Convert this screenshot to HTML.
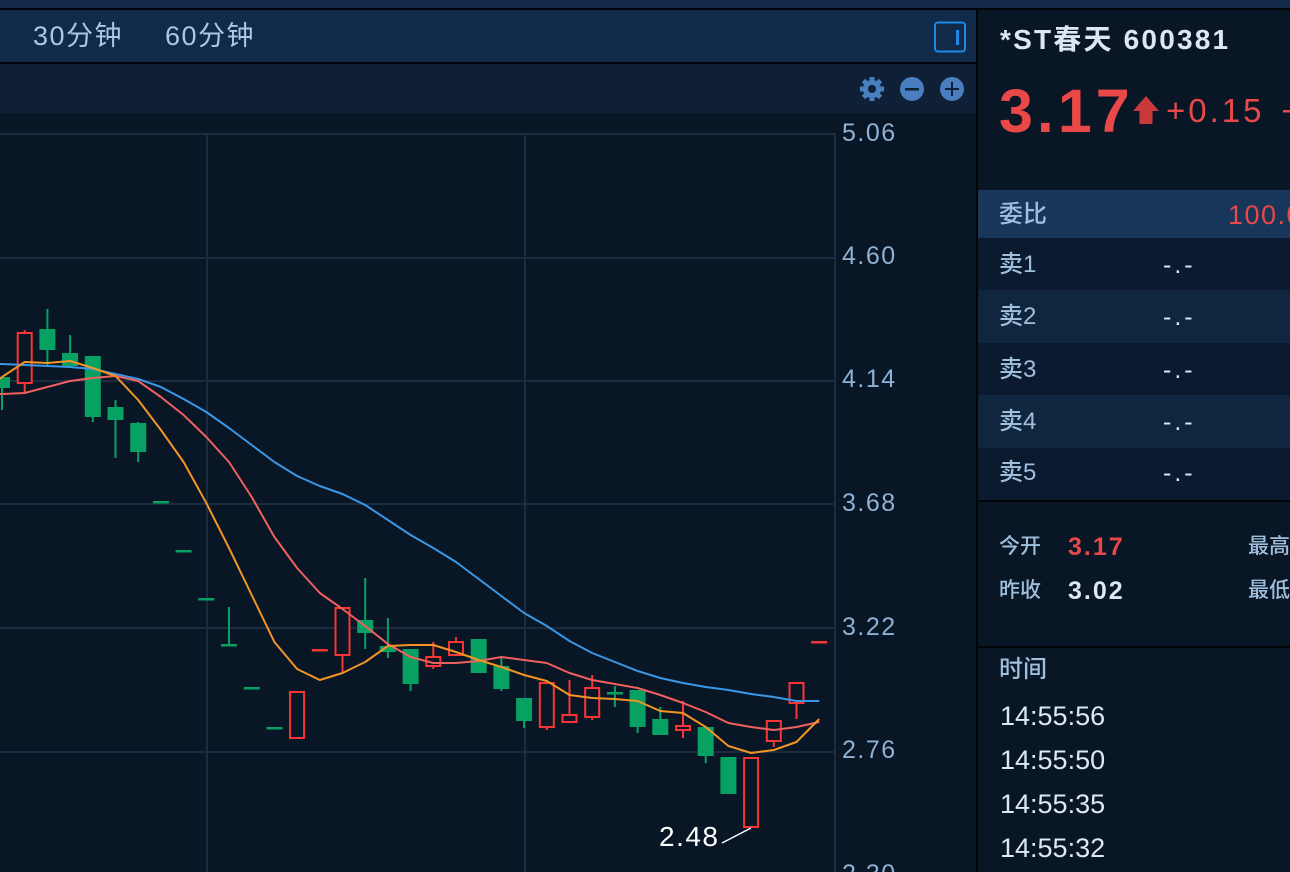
<!DOCTYPE html>
<html><head><meta charset="utf-8">
<style>
*{margin:0;padding:0;box-sizing:border-box}
html,body{width:1290px;height:872px;overflow:hidden;background:#081626}
body{position:relative;font-family:"Liberation Sans","Noto Sans CJK SC",sans-serif}
.a{position:absolute;white-space:nowrap}
.lbl{color:#a0bfdc;font-size:24px;line-height:24px;font-weight:500}
.val{color:#dce8f5;font-size:25px;line-height:24px;letter-spacing:3px}
</style></head><body>
<div class="a" style="left:0;top:0;width:1290px;height:8px;background:#13294a"></div>
<div class="a" style="left:0;top:8px;width:1290px;height:2px;background:#020508"></div>
<div class="a" style="left:0;top:10px;width:976px;height:52px;background:#112a49"></div>
<div class="a" style="left:0;top:62px;width:976px;height:2px;background:#020508"></div>
<div class="a" style="left:33px;top:23px;font-size:27px;line-height:27px;color:#a9c8e6;letter-spacing:1.5px">30分钟</div>
<div class="a" style="left:165px;top:23px;font-size:27px;line-height:27px;color:#a9c8e6;letter-spacing:1.5px">60分钟</div>
<div class="a" style="left:0;top:64px;width:976px;height:49px;background:#0e1f36"></div>
<div class="a" style="left:976px;top:10px;width:2px;height:862px;background:#020508"></div>

<svg class="a" style="left:0;top:0" width="976" height="872" viewBox="0 0 976 872">
  <rect x="935" y="22.5" width="30" height="29" rx="3" fill="none" stroke="#1a8ae6" stroke-width="2"/>
  <rect x="956" y="30" width="3" height="15" fill="#1a8ae6"/>
  <g fill="#4a7fbf">
    <circle cx="872" cy="89" r="9"/>
    <rect x="869.5" y="77" width="5" height="24"/>
    <rect x="860" y="86.5" width="24" height="5"/>
    <rect x="869.5" y="77" width="5" height="24" transform="rotate(45 872 89)"/>
    <rect x="869.5" y="77" width="5" height="24" transform="rotate(-45 872 89)"/>
    <circle cx="912" cy="89" r="12"/>
    <circle cx="952" cy="89" r="12"/>
  </g>
  <circle cx="872" cy="89" r="4" fill="#0e1f36"/>
  <rect x="905" y="88" width="14" height="2.5" fill="#0e1f36"/>
  <rect x="945" y="88" width="14" height="2" fill="#0e1f36"/>
  <rect x="951" y="82" width="2" height="14" fill="#0e1f36"/>

  <g stroke="#1b2c42" stroke-width="2">
    <line x1="0" y1="134" x2="835" y2="134"/>
    <line x1="0" y1="258" x2="835" y2="258"/>
    <line x1="0" y1="381" x2="835" y2="381"/>
    <line x1="0" y1="504" x2="835" y2="504"/>
    <line x1="0" y1="628" x2="835" y2="628"/>
    <line x1="0" y1="752" x2="835" y2="752"/>
    <line x1="207" y1="134" x2="207" y2="872"/>
    <line x1="525" y1="134" x2="525" y2="872"/>
    <line x1="835" y1="134" x2="835" y2="872"/>
  </g>

  <g fill="#07a163">
    <rect x="1" y="377" width="2" height="33"/><rect x="-6" y="377" width="16" height="11"/>
    <rect x="46.4" y="309" width="2" height="57"/><rect x="39.4" y="329" width="16" height="21"/>
    <rect x="69.1" y="335" width="2" height="31"/><rect x="62.1" y="353" width="16" height="13"/>
    <rect x="91.8" y="356" width="2" height="66"/><rect x="84.8" y="356" width="16" height="61"/>
    <rect x="114.5" y="400" width="2" height="58"/><rect x="107.5" y="407" width="16" height="13"/>
    <rect x="137.2" y="422" width="2" height="40"/><rect x="130.2" y="423" width="16" height="29"/>
    <rect x="152.9" y="501" width="16" height="2.5"/>
    <rect x="175.6" y="550" width="16" height="2.5"/>
    <rect x="198.3" y="598" width="16" height="2.5"/>
    <rect x="228" y="607" width="2" height="38"/><rect x="221" y="644" width="16" height="2.5"/>
    <rect x="243.7" y="687" width="16" height="2.5"/>
    <rect x="266.4" y="727" width="16" height="2.5"/>
    <rect x="364.2" y="578" width="2" height="71"/><rect x="357.2" y="620" width="16" height="13"/>
    <rect x="386.9" y="618" width="2" height="40"/><rect x="379.9" y="646" width="16" height="6"/>
    <rect x="409.6" y="649" width="2" height="42"/><rect x="402.6" y="649" width="16" height="35"/>
    <rect x="470.7" y="639" width="16" height="34"/>
    <rect x="500.4" y="658" width="2" height="33"/><rect x="493.4" y="666" width="16" height="23"/>
    <rect x="523.1" y="698" width="2" height="30"/><rect x="516.1" y="698" width="16" height="23"/>
    <rect x="613.9" y="686" width="2" height="21"/><rect x="606.9" y="692" width="16" height="2.5"/>
    <rect x="636.6" y="690" width="2" height="43"/><rect x="629.6" y="690" width="16" height="37"/>
    <rect x="659.3" y="707" width="2" height="28"/><rect x="652.3" y="719" width="16" height="16"/>
    <rect x="704.7" y="727" width="2" height="36"/><rect x="697.7" y="727" width="16" height="29"/>
    <rect x="720.4" y="757" width="16" height="37"/>
  </g>
  <g fill="#fa3535">
    <rect x="23.7" y="330" width="2" height="62"/>
    <rect x="341.5" y="607" width="2" height="65"/>
    <rect x="432.3" y="642" width="2" height="27"/>
    <rect x="455" y="637" width="2" height="19"/>
    <rect x="545.8" y="682" width="2" height="48"/>
    <rect x="568.5" y="680" width="2" height="43"/>
    <rect x="591.2" y="675" width="2" height="45"/>
    <rect x="682" y="701" width="2" height="37"/>
    <rect x="772.8" y="720" width="2" height="27"/>
    <rect x="795.5" y="682" width="2" height="37"/>
    <rect x="311.8" y="649" width="16" height="2.5"/>
    <rect x="811.2" y="641" width="16" height="2.5"/>
  </g>
  <g fill="#081626" stroke="#fa3535" stroke-width="2">
    <rect x="17.7" y="333" width="14" height="50"/>
    <rect x="290.1" y="692" width="14" height="46"/>
    <rect x="335.5" y="608" width="14" height="47"/>
    <rect x="426.3" y="657" width="14" height="9"/>
    <rect x="449" y="642" width="14" height="13"/>
    <rect x="539.8" y="683" width="14" height="44"/>
    <rect x="562.5" y="715" width="14" height="7"/>
    <rect x="585.2" y="688" width="14" height="29"/>
    <rect x="676" y="726" width="14" height="4"/>
    <rect x="744.1" y="758" width="14" height="69"/>
    <rect x="766.8" y="721" width="14" height="20"/>
    <rect x="789.5" y="683" width="14" height="20"/>
  </g>

  <g fill="none" stroke-width="2" stroke-linejoin="round">
    <polyline stroke="#3a97e6" points="0,364 2,364 24.7,365 47.4,366 70.1,367 92.8,369 115.5,374 138.2,379 160.9,387 183.6,399 206.3,412 229,428 251.7,445 274.4,462 297.1,476 319.8,486 342.5,494 365.2,505 387.9,520 410.6,535 433.3,548 456,562 478.7,579 501.4,596 524.1,613 546.8,626 569.5,641 592.2,653 614.9,662 637.6,671 660.3,678 683,683 705.7,687 728.4,690 751.1,694 773.8,697 796.5,701 819.2,701"/>
    <polyline stroke="#f0605e" points="0,394 2,394 24.7,393 47.4,387 70.1,381 92.8,378 115.5,376 138.2,381 160.9,397 183.6,415 206.3,437 229,462 251.7,497 274.4,537 297.1,568 319.8,593 342.5,609 365.2,626 387.9,644 410.6,657 433.3,663 456,663 478.7,661 501.4,657 524.1,660 546.8,663 569.5,673 592.2,680 614.9,684 637.6,688 660.3,695 683,703 705.7,712 728.4,723 751.1,727 773.8,730 796.5,727 819.2,722"/>
    <polyline stroke="#f39424" points="0,379 2,377 24.7,362 47.4,363 70.1,361 92.8,368 115.5,376 138.2,400 160.9,430 183.6,462 206.3,503 229,548 251.7,595 274.4,642 297.1,669 319.8,680 342.5,673 365.2,662 387.9,646 410.6,645 433.3,645 456,652 478.7,660 501.4,667 524.1,675 546.8,681 569.5,695 592.2,698 614.9,699 637.6,701 660.3,711 683,713 705.7,727 728.4,746 751.1,753 773.8,750 796.5,742 819.2,719"/>
  </g>
  <line x1="722" y1="843" x2="751" y2="828" stroke="#ffffff" stroke-width="1.5"/>
</svg>

<div class="a" style="left:842px;top:120.5px;font-size:25px;line-height:25px;color:#8eb1d4;letter-spacing:1.5px">5.06</div>
<div class="a" style="left:842px;top:243.5px;font-size:25px;line-height:25px;color:#8eb1d4;letter-spacing:1.5px">4.60</div>
<div class="a" style="left:842px;top:366.5px;font-size:25px;line-height:25px;color:#8eb1d4;letter-spacing:1.5px">4.14</div>
<div class="a" style="left:842px;top:490.5px;font-size:25px;line-height:25px;color:#8eb1d4;letter-spacing:1.5px">3.68</div>
<div class="a" style="left:842px;top:614.5px;font-size:25px;line-height:25px;color:#8eb1d4;letter-spacing:1.5px">3.22</div>
<div class="a" style="left:842px;top:737.5px;font-size:25px;line-height:25px;color:#8eb1d4;letter-spacing:1.5px">2.76</div>
<div class="a" style="left:842px;top:861.5px;font-size:25px;line-height:25px;color:#8eb1d4;letter-spacing:1.5px">2.30</div>
<div class="a" style="left:659px;top:823px;font-size:28px;line-height:28px;color:#ffffff;letter-spacing:1.5px">2.48</div>

<div class="a" style="left:1000px;top:26px;font-size:28px;line-height:28px;color:#dde7f3;font-weight:bold;letter-spacing:2.2px">*ST春天 600381</div>
<div class="a" style="left:999px;top:81px;font-size:61px;line-height:60px;color:#e84848;font-weight:bold;letter-spacing:4px">3.17</div>
<svg class="a" style="left:0;top:0" width="1290" height="872" viewBox="0 0 1290 872" pointer-events="none">
  <polygon points="1146,96 1159,111 1152.5,111 1152.5,124 1139.5,124 1139.5,111 1133,111" fill="#c83a3a"/>
  <rect x="1283" y="110" width="7" height="2.5" fill="#e84848"/>
</svg>
<div class="a" style="left:1166px;top:93.5px;font-size:33px;line-height:33px;color:#e84848;letter-spacing:3px">+0.15</div>

<div class="a" style="left:978px;top:190px;width:312px;height:48px;background:#173659"></div>
<div class="a lbl" style="left:999px;top:203px">委比</div>
<div class="a" style="left:1228px;top:201.5px;font-size:27px;line-height:27px;color:#e84848;letter-spacing:1.5px">100.0</div>

<div class="a" style="left:978px;top:238px;width:312px;height:52px;background:#0b1a2e"></div>
<div class="a" style="left:978px;top:290px;width:312px;height:53px;background:#10263f"></div>
<div class="a" style="left:978px;top:343px;width:312px;height:52px;background:#0b1a2e"></div>
<div class="a" style="left:978px;top:395px;width:312px;height:53px;background:#10263f"></div>
<div class="a" style="left:978px;top:448px;width:312px;height:52px;background:#0b1a2e"></div>
<div class="a" style="left:978px;top:500px;width:312px;height:2px;background:#020508"></div>

<div class="a lbl" style="left:999px;top:253px">卖1</div>
<div class="a lbl" style="left:999px;top:305px">卖2</div>
<div class="a lbl" style="left:999px;top:358px">卖3</div>
<div class="a lbl" style="left:999px;top:410px">卖4</div>
<div class="a lbl" style="left:999px;top:461px">卖5</div>
<div class="a val" style="left:1163px;top:253px">-.-</div>
<div class="a val" style="left:1163px;top:305px">-.-</div>
<div class="a val" style="left:1163px;top:358px">-.-</div>
<div class="a val" style="left:1163px;top:410px">-.-</div>
<div class="a val" style="left:1163px;top:461px">-.-</div>

<div class="a" style="left:999px;top:537px;font-size:21px;line-height:20px;color:#a0bfdc;font-weight:500">今开</div>
<div class="a" style="left:1068px;top:534.5px;font-size:25px;line-height:24px;color:#e84848;font-weight:bold;letter-spacing:2px">3.17</div>
<div class="a" style="left:1248px;top:537px;font-size:21px;line-height:20px;color:#a0bfdc;font-weight:500">最高</div>
<div class="a" style="left:999px;top:581px;font-size:21px;line-height:20px;color:#a0bfdc;font-weight:500">昨收</div>
<div class="a" style="left:1068px;top:578.5px;font-size:25px;line-height:24px;color:#dce8f5;font-weight:bold;letter-spacing:2px">3.02</div>
<div class="a" style="left:1248px;top:581px;font-size:21px;line-height:20px;color:#a0bfdc;font-weight:500">最低</div>

<div class="a" style="left:978px;top:646px;width:312px;height:2px;background:#020508"></div>
<div class="a lbl" style="left:999px;top:658px">时间</div>
<div class="a" style="left:1000px;top:702.5px;font-size:27px;line-height:27px;color:#dce8f5">14:55:56</div>
<div class="a" style="left:1000px;top:746.5px;font-size:27px;line-height:27px;color:#dce8f5">14:55:50</div>
<div class="a" style="left:1000px;top:790.5px;font-size:27px;line-height:27px;color:#dce8f5">14:55:35</div>
<div class="a" style="left:1000px;top:834.5px;font-size:27px;line-height:27px;color:#dce8f5">14:55:32</div>
</body></html>
